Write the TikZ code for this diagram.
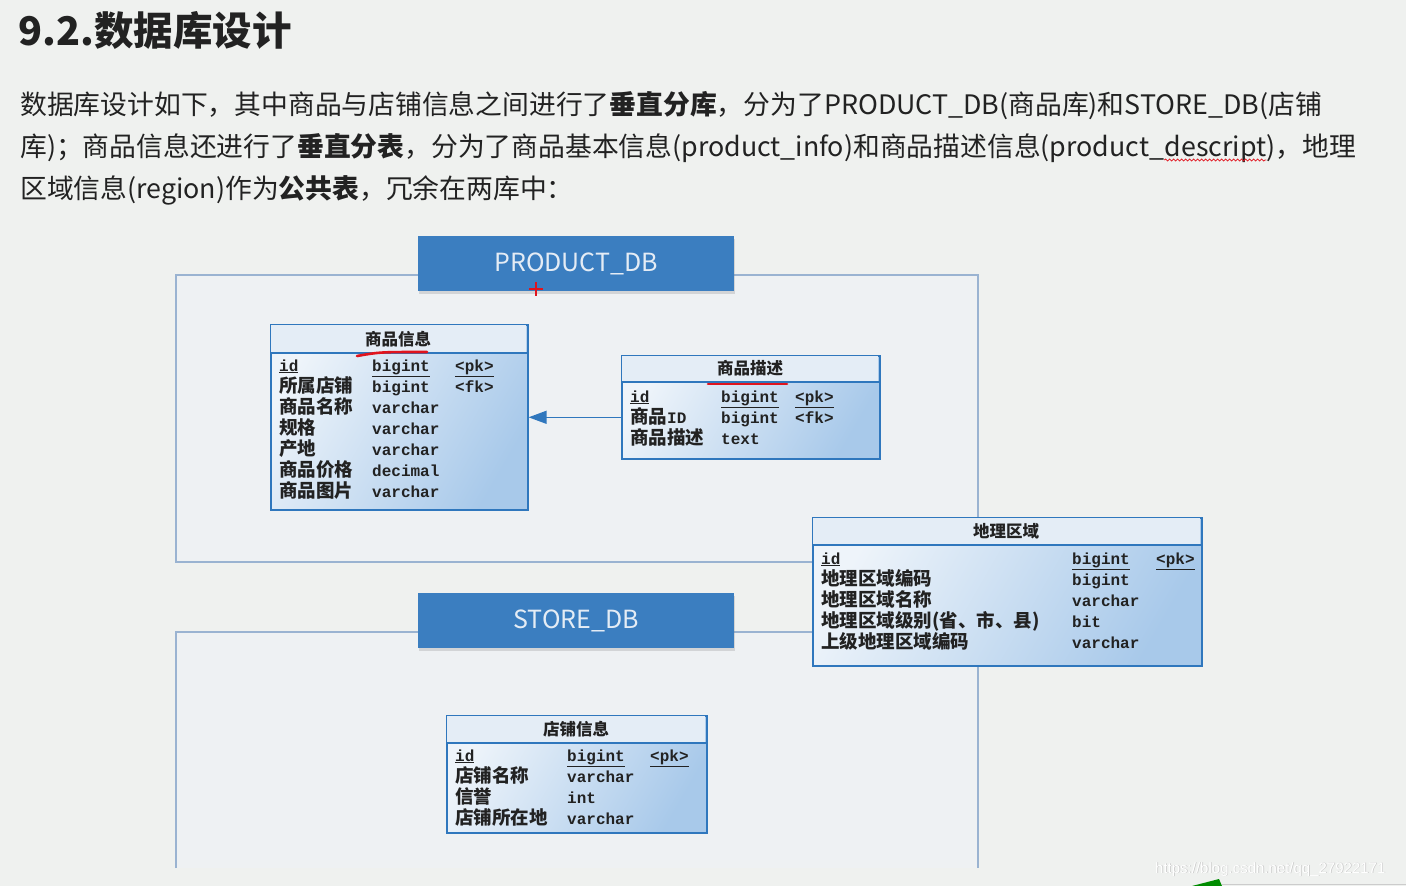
\documentclass[tikz,border=0pt]{standalone}
\usepackage{fontspec}
\setmainfont{Noto Sans CJK SC}
\setmonofont{Liberation Mono}
\newfontfamily\cjk{Noto Sans CJK SC}
\newfontfamily\wmfont{Liberation Sans}
\usetikzlibrary{arrows.meta,shadows,decorations.pathmorphing}

\definecolor{pagebg}{HTML}{EFF1EF}
\definecolor{inktext}{HTML}{222222}
\definecolor{dbblue}{HTML}{3B7EC0}
\definecolor{dbtext}{HTML}{E4ECF5}
\definecolor{frameline}{HTML}{9AB3D1}
\definecolor{framefill}{HTML}{EEF1F3}
\definecolor{tabline}{HTML}{2F77BD}
\definecolor{tabA}{HTML}{EEF4FA}
\definecolor{tabB}{HTML}{A8C9EA}
\definecolor{headfill}{HTML}{E4EDF6}
\definecolor{inkred}{HTML}{E0141E}

\newcommand{\zh}[1]{{\cjk\bfseries\fontsize{18.5}{18.5}\selectfont #1}}
\newcommand{\pk}[1]{\underline{#1}}

\tikzset{
  dbhead/.style={fill=dbblue, text=dbtext, minimum width=316pt, minimum height=55pt,
    inner sep=0pt, font=\fontsize{25}{25}\selectfont,
    drop shadow={opacity=0.25, shadow xshift=1pt, shadow yshift=-3pt}},
  dbframe/.style={draw=frameline, line width=1.3pt},
  tablebox/.style={draw=tabline, line width=1.6pt, left color=tabA, right color=tabB,
    shading angle=60, anchor=north west, inner sep=0pt},
  tabsep/.style={draw=tabline, line width=2pt},
  tabtitle/.style={font=\cjk\bfseries\fontsize{16.5}{16.5}\selectfont, text=inktext, inner sep=0pt},
  field/.style={anchor=base west, inner sep=0pt, text=inktext,
    font=\ttfamily\bfseries\fontsize{16}{16}\selectfont},
  para/.style={anchor=base west, inner sep=0pt, text=inktext, font=\fontsize{26.8}{26.8}\selectfont},
  redmark/.style={draw=inkred, line width=2.6pt, line cap=round},
  fkarrow/.style={draw=tabline, line width=1.4pt, -{Triangle[length=18pt,width=13pt]}}
}

\begin{document}
\begin{tikzpicture}[x=1pt,y=-1pt]
\useasboundingbox[fill=pagebg] (0,0) rectangle (1406,886);

% heading and text
\node[para, font=\bfseries\fontsize{39.5}{39.5}\selectfont] (title) at (18,45) {9.2.数据库设计};
\node[para] (line1) at (20,114) {数据库设计如下，其中商品与店铺信息之间进行了\textbf{垂直分库}，分为了PRODUCT\_DB(商品库)和STORE\_DB(店铺};
\node[para] (line2a) at (20,156) {库)；商品信息还进行了\textbf{垂直分表}，分为了商品基本信息(product\_info)和商品描述信息(product\_};
\node[para] (line2b) at (line2a.base east) {descript};
\node[para] (line2c) at (line2b.base east) {)，地理};
\node[para] (line3) at (20,198) {区域信息(region)作为\textbf{公共表}，冗余在两库中：};
\draw[inkred, line width=0.8pt, decorate, decoration={snake, amplitude=1pt, segment length=4pt}]
  ([yshift=-4pt]line2b.base west) -- ([yshift=-4pt]line2b.base east);

% product db
\draw[dbframe, fill=framefill] (176,275) rectangle (978,562);
\node[dbhead, anchor=north west] (prodhead) at (418,236) {PRODUCT\_DB};

% store db
\fill[framefill] (176,632) rectangle (978,868);
\draw[dbframe] (176,868) -- (176,632) -- (978,632) -- (978,868);
\node[dbhead, anchor=north west] (storehead) at (418,593) {STORE\_DB};

% 商品信息
\node[tablebox, minimum width=257pt, minimum height=185pt] (info) at (270,324) {};
\fill[headfill] (271,325) rectangle (526,353);
\draw[tabsep] (270,353) -- (527,353);
\node[tabtitle] (infotitle) at (398,339) {商品信息};
\node[field] at (279,371) {\pk{id}};
\node[field] at (279,392) {\zh{所属店铺}};
\node[field] at (279,413) {\zh{商品名称}};
\node[field] at (279,434) {\zh{规格}};
\node[field] at (279,455) {\zh{产地}};
\node[field] at (279,476) {\zh{商品价格}};
\node[field] at (279,497) {\zh{商品图片}};
\node[field] at (372,371) {\pk{bigint}};
\node[field] at (372,392) {bigint};
\node[field] at (372,413) {varchar};
\node[field] at (372,434) {varchar};
\node[field] at (372,455) {varchar};
\node[field] at (372,476) {decimal};
\node[field] at (372,497) {varchar};
\node[field] at (455,371) {\pk{<pk>}};
\node[field] at (455,392) {<fk>};

% 商品描述
\node[tablebox, minimum width=258pt, minimum height=103pt] (desc) at (621,355) {};
\fill[headfill] (622,356) rectangle (878,382);
\draw[tabsep] (621,382) -- (879,382);
\node[tabtitle] (desctitle) at (750,368) {商品描述};
\node[field] at (630,402) {\pk{id}};
\node[field] at (630,423) {\zh{商品}ID};
\node[field] at (630,444) {\zh{商品描述}};
\node[field] at (721,402) {\pk{bigint}};
\node[field] at (721,423) {bigint};
\node[field] at (721,444) {text};
\node[field] at (795,402) {\pk{<pk>}};
\node[field] at (795,423) {<fk>};

\draw[fkarrow] (desc.west |- info.east) -- (info.east);

% 地理区域
\node[tablebox, minimum width=389pt, minimum height=148pt] (region) at (812,517) {};
\fill[headfill] (813,518) rectangle (1200,545);
\draw[tabsep] (812,545) -- (1201,545);
\node[tabtitle] (regiontitle) at (1006,531) {地理区域};
\node[field] at (821,564) {\pk{id}};
\node[field] at (821,585) {\zh{地理区域编码}};
\node[field] at (821,606) {\zh{地理区域名称}};
\node[field] at (821,627) {\zh{地理区域级别(省、市、县)}};
\node[field] at (821,648) {\zh{上级地理区域编码}};
\node[field] at (1072,564) {\pk{bigint}};
\node[field] at (1072,585) {bigint};
\node[field] at (1072,606) {varchar};
\node[field] at (1072,627) {bit};
\node[field] at (1072,648) {varchar};
\node[field] at (1156,564) {\pk{<pk>}};

% 店铺信息
\node[tablebox, minimum width=260pt, minimum height=117pt] (shop) at (446,715) {};
\fill[headfill] (447,716) rectangle (705,743);
\draw[tabsep] (446,743) -- (706,743);
\node[tabtitle] (shoptitle) at (576,729) {店铺信息};
\node[field] at (455,761) {\pk{id}};
\node[field] at (455,782) {\zh{店铺名称}};
\node[field] at (455,803) {\zh{信誉}};
\node[field] at (455,824) {\zh{店铺所在地}};
\node[field] at (567,761) {\pk{bigint}};
\node[field] at (567,782) {varchar};
\node[field] at (567,803) {int};
\node[field] at (567,824) {varchar};
\node[field] at (650,761) {\pk{<pk>}};

% red marks
\draw[redmark] (357,356) .. controls (380,352) .. (427,352);
\draw[redmark] (708,384) -- (787,384);
\draw[inkred, line width=2pt] (529,289) -- (543,289) (536,282) -- (536,296);

% corner
\node[anchor=base west, inner sep=0pt, text=black!22, font=\wmfont\fontsize{15}{15}\selectfont] at (1155.7,873.7) {https://blog.csdn.net/qq\_27922171};
\node[anchor=base west, inner sep=0pt, text=white, font=\wmfont\fontsize{15}{15}\selectfont] (watermark) at (1155,873) {https://blog.csdn.net/qq\_27922171};
\fill[green!55!black] (1192,886) -- (1219,879) -- (1222,886) -- cycle;
\draw[black!20, line width=0.8pt] (1222,884) -- (1406,884);
\end{tikzpicture}
\end{document}
